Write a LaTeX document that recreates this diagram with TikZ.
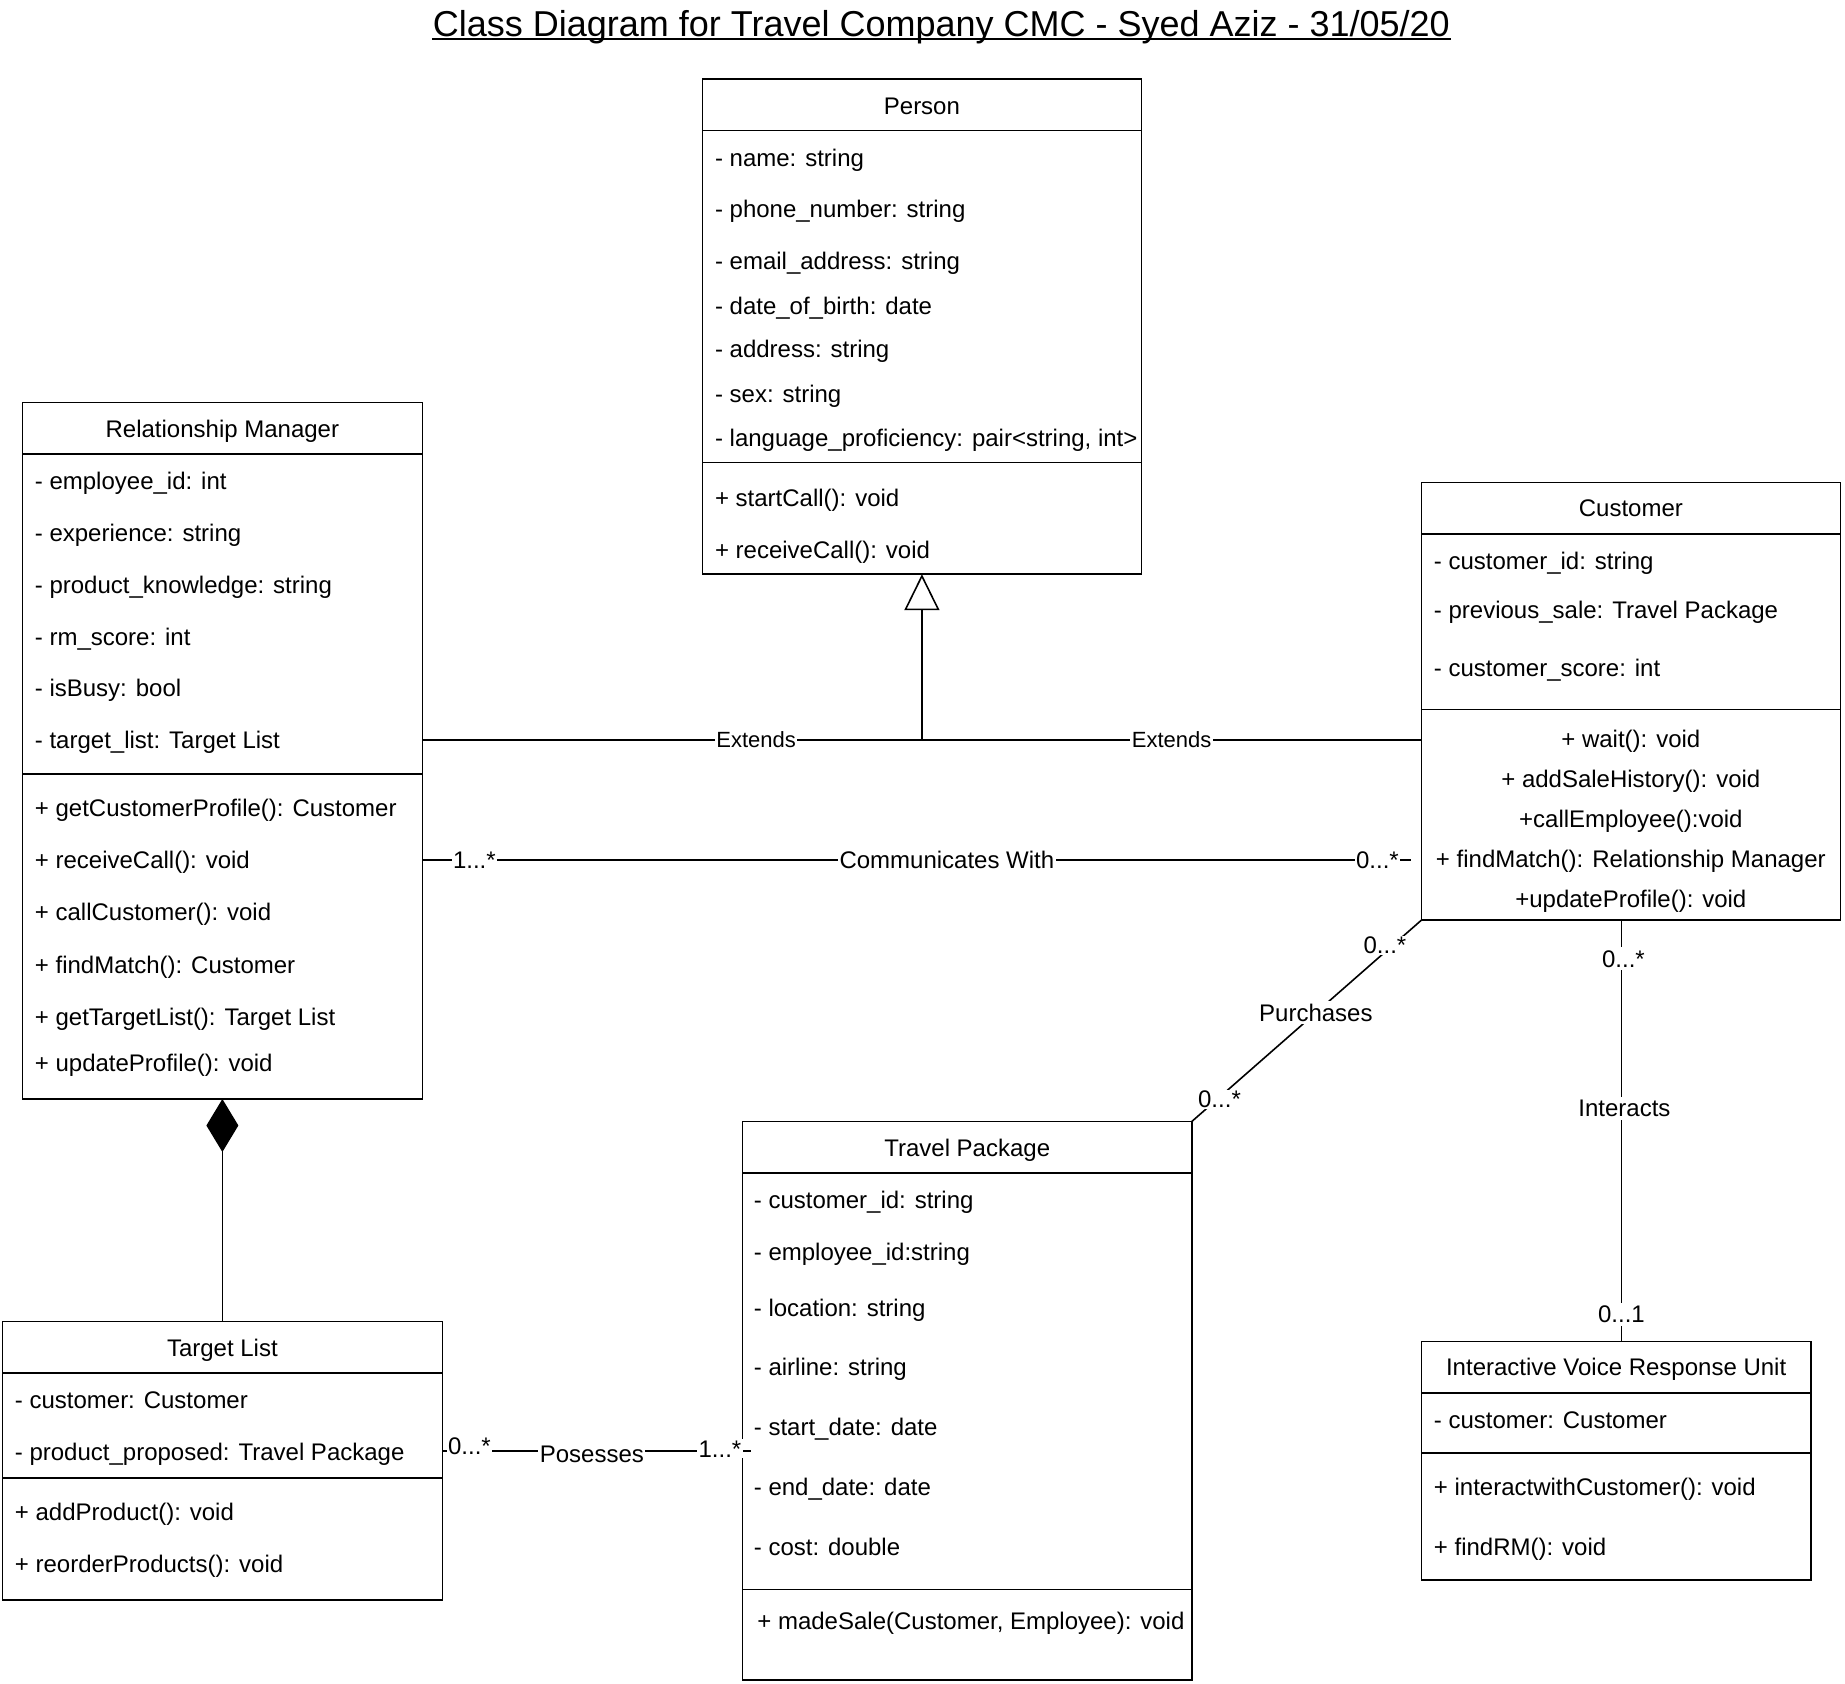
\documentclass[tikz,border=0pt]{standalone}
\usepackage{fontspec}
\setmainfont{Liberation Sans}
\usetikzlibrary{arrows.meta,fit}
\begin{document}
\begin{tikzpicture}[x=1.1767pt,y=-1.1767pt,line width=1.6pt,
  classbox/.style={draw,rectangle,inner sep=0pt,outer sep=0pt},
  txt/.style={anchor=west,inner sep=0pt,text height=17pt,text depth=0pt,font=\fontsize{24}{28}\selectfont},
  ctxt/.style={txt,anchor=center},
  lbl/.style={fill=white,inner xsep=1.5pt,inner ysep=3pt,text height=17pt,text depth=0pt,font=\fontsize{24}{28}\selectfont},
  extlbl/.style={lbl,text height=15.5pt,font=\fontsize{22}{26}\selectfont},
  gen/.style={-{Triangle[open,length=36pt,width=35pt]},fill=white},
  comp/.style={{Diamond[length=53pt,width=32pt]}-}]
\useasboundingbox (0,0) rectangle (1568,1431);
\fill[white] (0,0) rectangle (1568,1431);

% heading
\node[anchor=base,inner sep=0pt,font=\fontsize{36}{40}\selectfont] (title) at (800,30.6)
  {Class Diagram for Travel Company CMC - Syed Aziz - 31/05/20};
\draw[line width=2pt] ([yshift=-3pt]title.base west) -- ([yshift=-3pt]title.base east);

% ---------- Person ----------
\node[classbox,fit={(597,67) (970,488)}] (person) {};
\draw (597,111) -- (970,111);
\draw (597,393) -- (970,393);
\node[ctxt] (person-name) at (783.5,90) {Person};
\foreach \y/\t [count=\i] in {134/{- name: string},178/{- phone\_number: string},
  222/{- email\_address: string},260/{- date\_of\_birth: date},297/{- address: string},
  335/{- sex: string},372/{- language\_proficiency: pair<string, int>},
  423/{+ startCall(): void},467/{+ receiveCall(): void}}
  \node[txt] (person-\i) at (607,\y) {\t};

% ---------- Relationship Manager ----------
\node[classbox,fit={(19,342) (359,934)}] (rm) {};
\draw (19,386) -- (359,386);
\draw (19,658) -- (359,658);
\node[ctxt] (rm-name) at (189,365) {Relationship Manager};
\foreach \y/\t [count=\i] in {409/{- employee\_id: int},453/{- experience: string},
  497/{- product\_knowledge: string},541/{- rm\_score: int},585/{- isBusy: bool},
  629/{- target\_list: Target List},687/{+ getCustomerProfile(): Customer},
  731/{+ receiveCall(): void},775/{+ callCustomer(): void},820/{+ findMatch(): Customer},
  864/{+ getTargetList(): Target List},903/{+ updateProfile(): void}}
  \node[txt] (rm-\i) at (29,\y) {\t};

% ---------- Customer ----------
\node[classbox,fit={(1208,410) (1564,782)}] (cust) {};
\draw (1208,454) -- (1564,454);
\draw (1208,603) -- (1564,603);
\node[ctxt] (cust-name) at (1386,432) {Customer};
\foreach \y/\t [count=\i] in {477/{- customer\_id: string},518/{- previous\_sale: Travel Package},
  568/{- customer\_score: int}}
  \node[txt] (cust-a\i) at (1218,\y) {\t};
\foreach \y/\t [count=\i] in {628/{+ wait(): void},662/{+ addSaleHistory(): void},
  696/{+callEmployee():void},730/{+ findMatch(): Relationship Manager},
  764/{+updateProfile(): void}}
  \node[ctxt] (cust-m\i) at (1386,\y) {\t};

% ---------- Target List ----------
\node[classbox,fit={(2,1123) (376,1360)}] (tl) {};
\draw (2,1167) -- (376,1167);
\draw (2,1256) -- (376,1256);
\node[ctxt] (tl-name) at (189,1146) {Target List};
\foreach \y/\t [count=\i] in {1190/{- customer: Customer},1234/{- product\_proposed: Travel Package},
  1285/{+ addProduct(): void},1329/{+ reorderProducts(): void}}
  \node[txt] (tl-\i) at (12,\y) {\t};

% ---------- Travel Package ----------
\node[classbox,fit={(631,953) (1013,1428)}] (tp) {};
\draw (631,997) -- (1013,997);
\draw (631,1351) -- (1013,1351);
\node[ctxt] (tp-name) at (822,976) {Travel Package};
\foreach \y/\t [count=\i] in {1020/{- customer\_id: string},1064/{- employee\_id:string},
  1112/{- location: string},1162/{- airline: string},1213/{- start\_date: date},
  1264/{- end\_date: date},1315/{- cost: double}}
  \node[txt] (tp-\i) at (640,\y) {\t};
\node[txt] (tp-m1) at (643,1378) {+ madeSale(Customer, Employee): void};

% ---------- Interactive Voice Response Unit ----------
\node[classbox,fit={(1208,1140) (1539,1343)}] (ivr) {};
\draw (1208,1184) -- (1539,1184);
\draw (1208,1235) -- (1539,1235);
\node[ctxt] (ivr-name) at (1373.5,1162) {Interactive Voice Response Unit};
\foreach \y/\t [count=\i] in {1207/{- customer: Customer},1264/{+ interactwithCustomer(): void},
  1315/{+ findRM(): void}}
  \node[txt] (ivr-\i) at (1218,\y) {\t};

% ---------- relations ----------
% generalisation
\coordinate (ext) at (person.south |- 0,629);
\draw (rm.east |- ext) -- node[extlbl,pos=0.668] (ext-l) {Extends} (ext);
\draw (cust.west |- ext) -- node[extlbl] (ext-r) {Extends} (ext);
\draw[gen] (ext) -- (person.south);

% association RM -- Customer
\coordinate (com) at (0,731);
\draw[shorten >=10pt] (rm.east |- com) --
  node[lbl,pos=0.052] (com-a) {1...*}
  node[lbl,pos=0.525] (com-l) {Communicates With}
  node[lbl,pos=0.956] (com-b) {0...*} (cust.west |- com);

% association Customer -- Travel Package
\draw (cust.south west) --
  node[lbl,pos=0.159,yshift=7pt,inner ysep=1pt] (pur-a) {0...*}
  node[lbl,pos=0.46] (pur-l) {Purchases}
  node[lbl,pos=0.88,yshift=-2pt,inner ysep=1pt] (pur-b) {0...*} (tp.north east);

% association Customer -- IVR
\coordinate (ia) at (1378,0);
\draw (cust.south -| ia) --
  node[lbl,pos=0.092,xshift=2pt] (int-a) {0...*}
  node[lbl,pos=0.447,xshift=3pt] (int-l) {Interacts}
  node[lbl,pos=0.936] (int-b) {0...1} (ivr.north -| ia);

% composition RM -- Target List
\draw[comp] (rm.south) -- (tl.north);

% association Target List -- Travel Package
\coordinate (pos) at (0,1233);
\draw[shorten >=-9pt] (tl.east |- pos) --
  node[lbl,pos=0.09,yshift=5pt,inner ysep=1pt] (pos-a) {0...*}
  node[lbl,pos=0.498,yshift=-3pt] (pos-l) {Posesses}
  node[lbl,pos=0.925,yshift=2pt,inner ysep=1pt] (pos-b) {1...*} (tp.west |- pos);
\end{tikzpicture}
\end{document}
